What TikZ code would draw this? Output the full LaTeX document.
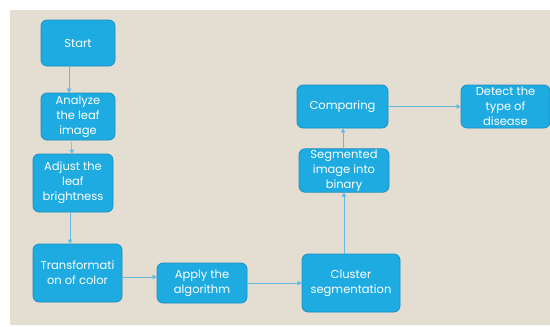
\documentclass[tikz,border=0pt]{standalone}
\usepackage{fontspec}
\setmainfont{Poppins}
\usetikzlibrary{arrows.meta}
\definecolor{paper}{HTML}{E3DDD2}
\definecolor{boxfill}{HTML}{1EABE2}
\definecolor{boxline}{HTML}{1D8DBC}
\definecolor{linkline}{HTML}{62BCE0}
\tikzset{
  box/.style={draw=boxline, line width=0.7pt, fill=boxfill, rounded corners=6pt,
    text=white, align=center, inner sep=1pt, font=\fontsize{11.5}{15}\selectfont},
  link/.style={draw=linkline, line width=0.6pt, -{Triangle[length=4pt,width=4.5pt]}}
}
\begin{document}
\begin{tikzpicture}[x=1pt, y=-1pt, line join=round]
			\useasboundingbox (0,0) rectangle (550,327);
			\fill[white] (0,0) rectangle (550,327);
			\fill[paper] (10,10) rectangle (550,325);
			% left column
			\node[box, minimum width=74pt, minimum height=46pt] (start) at (78,43) {Start};
			\node[box, minimum width=74pt, minimum height=47pt] (analyze) at (78,116.5) {Analyze\\the leaf\\image};
			\node[box, minimum width=80pt, minimum height=58pt] (adjust) at (73,183) {Adjust the\\leaf\\brightness};
			\node[box, minimum width=89pt, minimum height=58pt] (transf) at (77.5,273) {Transformati\\on of color};
			% bottom row
			\node[box, minimum width=90pt, minimum height=40pt] (apply) at (202,283) {Apply the\\algorithm};
			\node[box, minimum width=98pt, minimum height=58pt] (cluster) at (351,283) {Cluster\\segmentation};
			% right column
			\node[box, minimum width=90pt, minimum height=43pt] (segm) at (344,170.5) {Segmented\\image into\\binary};
			\node[box, minimum width=91pt, minimum height=43pt] (comp) at (342.5,106.5) {Comparing};
			\node[box, minimum width=89pt, minimum height=43pt] (detect) at (505.5,106.5) {Detect the\\type of\\disease};
			% connectors
			\draw[link] ([xshift=-9pt]start.south) -- ([xshift=-9pt]analyze.north);
			\draw[link] ([xshift=-7pt]analyze.south) -- ([xshift=-1pt]adjust.north);
			\draw[link] ([xshift=-3pt]adjust.south) -- ([xshift=-7.5pt]transf.north);
			\draw[link] ([yshift=-4pt]transf.east) -- ([yshift=6pt]apply.west);
			\draw[link] (apply.east) -- (cluster.west);
			\draw[link] ([xshift=-7pt]cluster.north) -- (segm.south);
			\draw[link] ([xshift=-1pt]segm.north) -- ([xshift=0.5pt]comp.south);
			\draw[link] (comp.east) -- (detect.west);
	\end{tikzpicture}
\end{document}
